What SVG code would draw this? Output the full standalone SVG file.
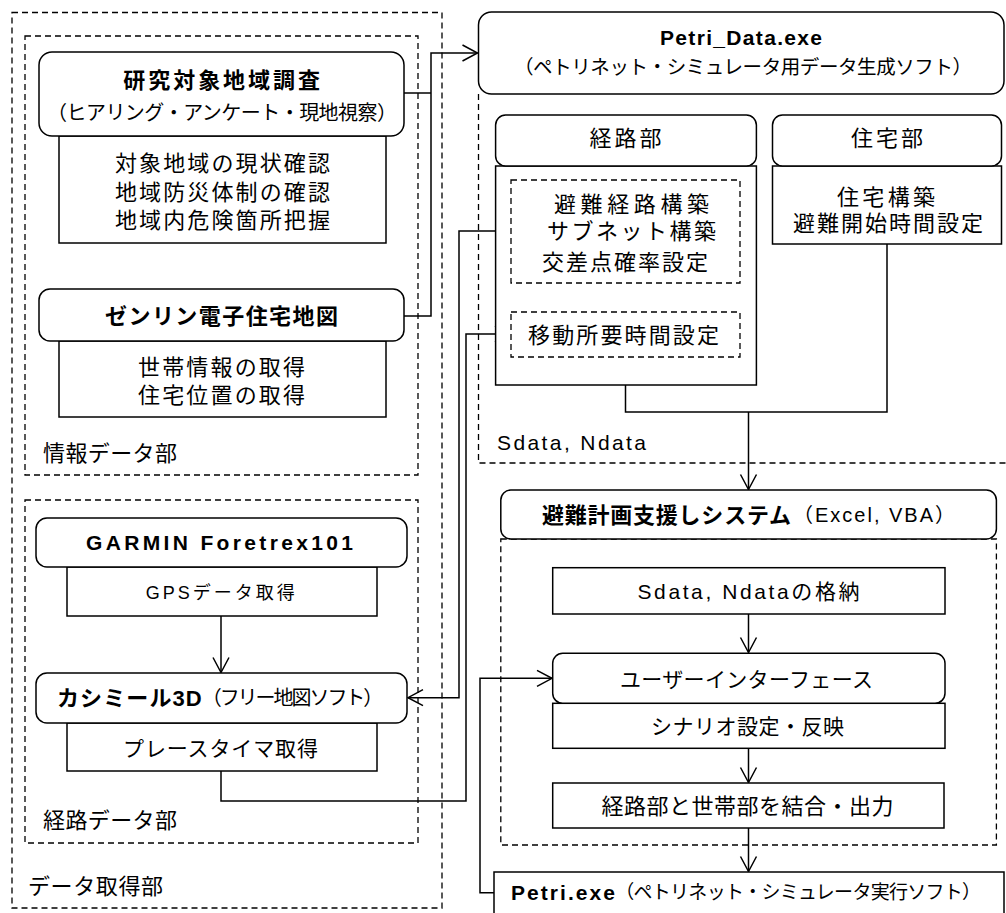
<svg xmlns="http://www.w3.org/2000/svg" width="1006" height="913" viewBox="0 0 1006 913">
<defs>
<style>
.s{fill:#fff;stroke:#000;stroke-width:1.5}
.d{fill:none;stroke:#000;stroke-width:1.3;stroke-dasharray:6 4}
.c{fill:none;stroke:#000;stroke-width:1.5}
.t{font-family:"Liberation Sans","Noto Sans CJK JP",sans-serif;font-size:22px;fill:#000;dominant-baseline:central}
.m{font-size:21px}
.n{font-size:20px}
.b{font-weight:bold}
</style>
<marker id="ah" viewBox="-16 -10 18 20" refX="0" refY="0" markerWidth="18" markerHeight="20" markerUnits="userSpaceOnUse" orient="auto">
<path d="M-15,-8 L0,0 L-15,8" fill="none" stroke="#000" stroke-width="1.5"/>
</marker>
</defs>
<rect width="1006" height="913" fill="#fff"/>

<g id="groups">
<rect id="data-acq" class="d" x="12" y="12.5" width="430" height="895.5"/>
<rect id="info-data" class="d" x="25" y="36" width="393" height="439"/>
<rect id="route-data" class="d" x="25" y="500" width="393" height="343"/>
<path id="petri-data-area" class="d" d="M478.5,94 V463 H1006"/>
<rect id="system-area" class="d" x="500.8" y="539" width="495.6" height="306"/>
</g>

<g id="connectors">
<path class="c" d="M404,93 H431"/>
<path class="c" d="M404,316 H431 V53 H477.5" marker-end="url(#ah)"/>
<path class="c" d="M511,231 H459 V697.7 H408" marker-end="url(#ah)"/>
<path class="c" d="M221,771 V801 H466 V334 H510" marker-end="url(#ah)"/>
<path class="c" d="M625.5,385 V412 H887 V244"/>
<path class="c" d="M748.5,412 V489.5" marker-end="url(#ah)"/>
<path class="c" d="M748.5,614 V652.5" marker-end="url(#ah)"/>
<path class="c" d="M748.5,748.3 V782.5" marker-end="url(#ah)"/>
<path class="c" d="M748.5,828 V871.5" marker-end="url(#ah)"/>
<path class="c" d="M494,892.7 H480 V678.3 H552" marker-end="url(#ah)"/>
<path class="c" d="M221,616 V672.5" marker-end="url(#ah)"/>
</g>

<g id="survey">
<rect class="s" x="59" y="136" width="327" height="107"/>
<rect class="s" x="39" y="52" width="365" height="84" rx="13"/>
<text class="t b" x="123.3" y="80" textLength="196.7" lengthAdjust="spacing">研究対象地域調査</text>
<text class="t n" x="47" y="113" textLength="350" lengthAdjust="spacing">（ヒアリング・アンケート・現地視察）</text>
<text class="t" x="115" y="163" textLength="215" lengthAdjust="spacing">対象地域の現状確認</text>
<text class="t" x="115" y="192" textLength="215" lengthAdjust="spacing">地域防災体制の確認</text>
<text class="t" x="115" y="220" textLength="215" lengthAdjust="spacing">地域内危険箇所把握</text>
</g>

<g id="zenrin">
<rect class="s" x="59" y="341" width="327" height="76"/>
<rect class="s" x="39" y="289" width="365" height="52" rx="11"/>
<text class="t b" x="105" y="316" textLength="233" lengthAdjust="spacing">ゼンリン電子住宅地図</text>
<text class="t" x="138" y="367" textLength="167" lengthAdjust="spacing">世帯情報の取得</text>
<text class="t" x="138" y="395" textLength="167" lengthAdjust="spacing">住宅位置の取得</text>
</g>

<g id="labels-left">
<text class="t" x="43" y="453" textLength="134" lengthAdjust="spacing">情報データ部</text>
<text class="t" x="43" y="820.7" textLength="134" lengthAdjust="spacing">経路データ部</text>
<text class="t" x="28" y="886" textLength="135" lengthAdjust="spacing">データ取得部</text>
</g>

<g id="garmin">
<rect class="s" x="67" y="567" width="310" height="49"/>
<rect class="s" x="36" y="518" width="371" height="49" rx="11"/>
<text class="t b m" x="86" y="542" textLength="267" lengthAdjust="spacing">GARMIN Foretrex101</text>
<text class="t" x="145.7" y="592.7" textLength="149" lengthAdjust="spacing" style="font-size:18px">GPSデータ取得</text>
</g>

<g id="kashmir">
<rect class="s" x="67" y="723" width="310" height="48"/>
<rect class="s" x="36" y="673" width="371" height="50" rx="11"/>
<text class="t b" x="57" y="698.3" textLength="144.7" lengthAdjust="spacing">カシミール3D</text>
<text class="t n" x="201.7" y="698.3" textLength="181.6" lengthAdjust="spacing">（フリー地図ソフト）</text>
<text class="t m" x="123" y="748.3" textLength="195" lengthAdjust="spacing">プレースタイマ取得</text>
</g>

<g id="petri-data">
<rect class="s" x="478.5" y="12" width="525.5" height="82" rx="13"/>
<text class="t b m" x="660" y="37" textLength="162" lengthAdjust="spacing">Petri_Data.exe</text>
<text class="t" x="514" y="67" textLength="458" lengthAdjust="spacing" style="font-size:19.5px">（ペトリネット・シミュレータ用データ生成ソフト）</text>
<text class="t m" x="497" y="442" textLength="149" lengthAdjust="spacing">Sdata, Ndata</text>
</g>

<g id="route-part">
<rect class="s" x="495.6" y="166" width="260.8" height="219"/>
<rect class="s" x="495.6" y="115" width="260.8" height="51" rx="10"/>
<text class="t" x="589.6" y="138" textLength="72" lengthAdjust="spacing">経路部</text>
<rect class="d" x="511" y="180" width="229" height="103"/>
<text class="t" x="554" y="204" textLength="155" lengthAdjust="spacing">避難経路構築</text>
<text class="t" x="547" y="231" textLength="169" lengthAdjust="spacing">サブネット構築</text>
<text class="t" x="542" y="262" textLength="166" lengthAdjust="spacing">交差点確率設定</text>
<rect class="d" x="511" y="312" width="229" height="45"/>
<text class="t" x="528" y="335" textLength="191" lengthAdjust="spacing">移動所要時間設定</text>
</g>

<g id="house-part">
<rect class="s" x="772.5" y="166" width="229" height="78"/>
<rect class="s" x="772.5" y="115" width="229" height="51" rx="10"/>
<text class="t" x="851" y="138" textLength="72" lengthAdjust="spacing">住宅部</text>
<text class="t" x="837" y="197" textLength="98" lengthAdjust="spacing">住宅構築</text>
<text class="t" x="793" y="223" textLength="190" lengthAdjust="spacing">避難開始時間設定</text>
</g>

<g id="system">
<rect class="s" x="500.8" y="490" width="495.6" height="49" rx="10"/>
<text class="t b" x="542" y="515" textLength="249" lengthAdjust="spacing">避難計画支援しシステム</text>
<text class="t n" x="793" y="515" textLength="162" lengthAdjust="spacing">（Excel, VBA）</text>
</g>

<g id="store">
<rect class="s" x="552.7" y="567.7" width="392.3" height="46.3"/>
<text class="t m" x="637.5" y="591.5" textLength="222" lengthAdjust="spacing">Sdata, Ndataの格納</text>
</g>

<g id="ui">
<rect class="s" x="552.7" y="703.3" width="392.3" height="45"/>
<rect class="s" x="552.7" y="653.3" width="392.3" height="50" rx="10"/>
<text class="t m" x="620" y="679" textLength="253" lengthAdjust="spacing">ユーザーインターフェース</text>
<text class="t m" x="651" y="726.5" textLength="193" lengthAdjust="spacing">シナリオ設定・反映</text>
</g>

<g id="combine">
<rect class="s" x="552.7" y="783" width="391.3" height="45"/>
<text class="t" x="601.6" y="806.5" textLength="292" lengthAdjust="spacing">経路部と世帯部を結合・出力</text>
</g>

<g id="petri-exe">
<rect class="s" x="494" y="872" width="510" height="60"/>
<text class="t b m" x="511" y="892" textLength="104" lengthAdjust="spacing">Petri.exe</text>
<text class="t" x="615.3" y="892" textLength="365.7" lengthAdjust="spacing" style="font-size:19px">（ペトリネット・シミュレータ実行ソフト）</text>
</g>
</svg>
